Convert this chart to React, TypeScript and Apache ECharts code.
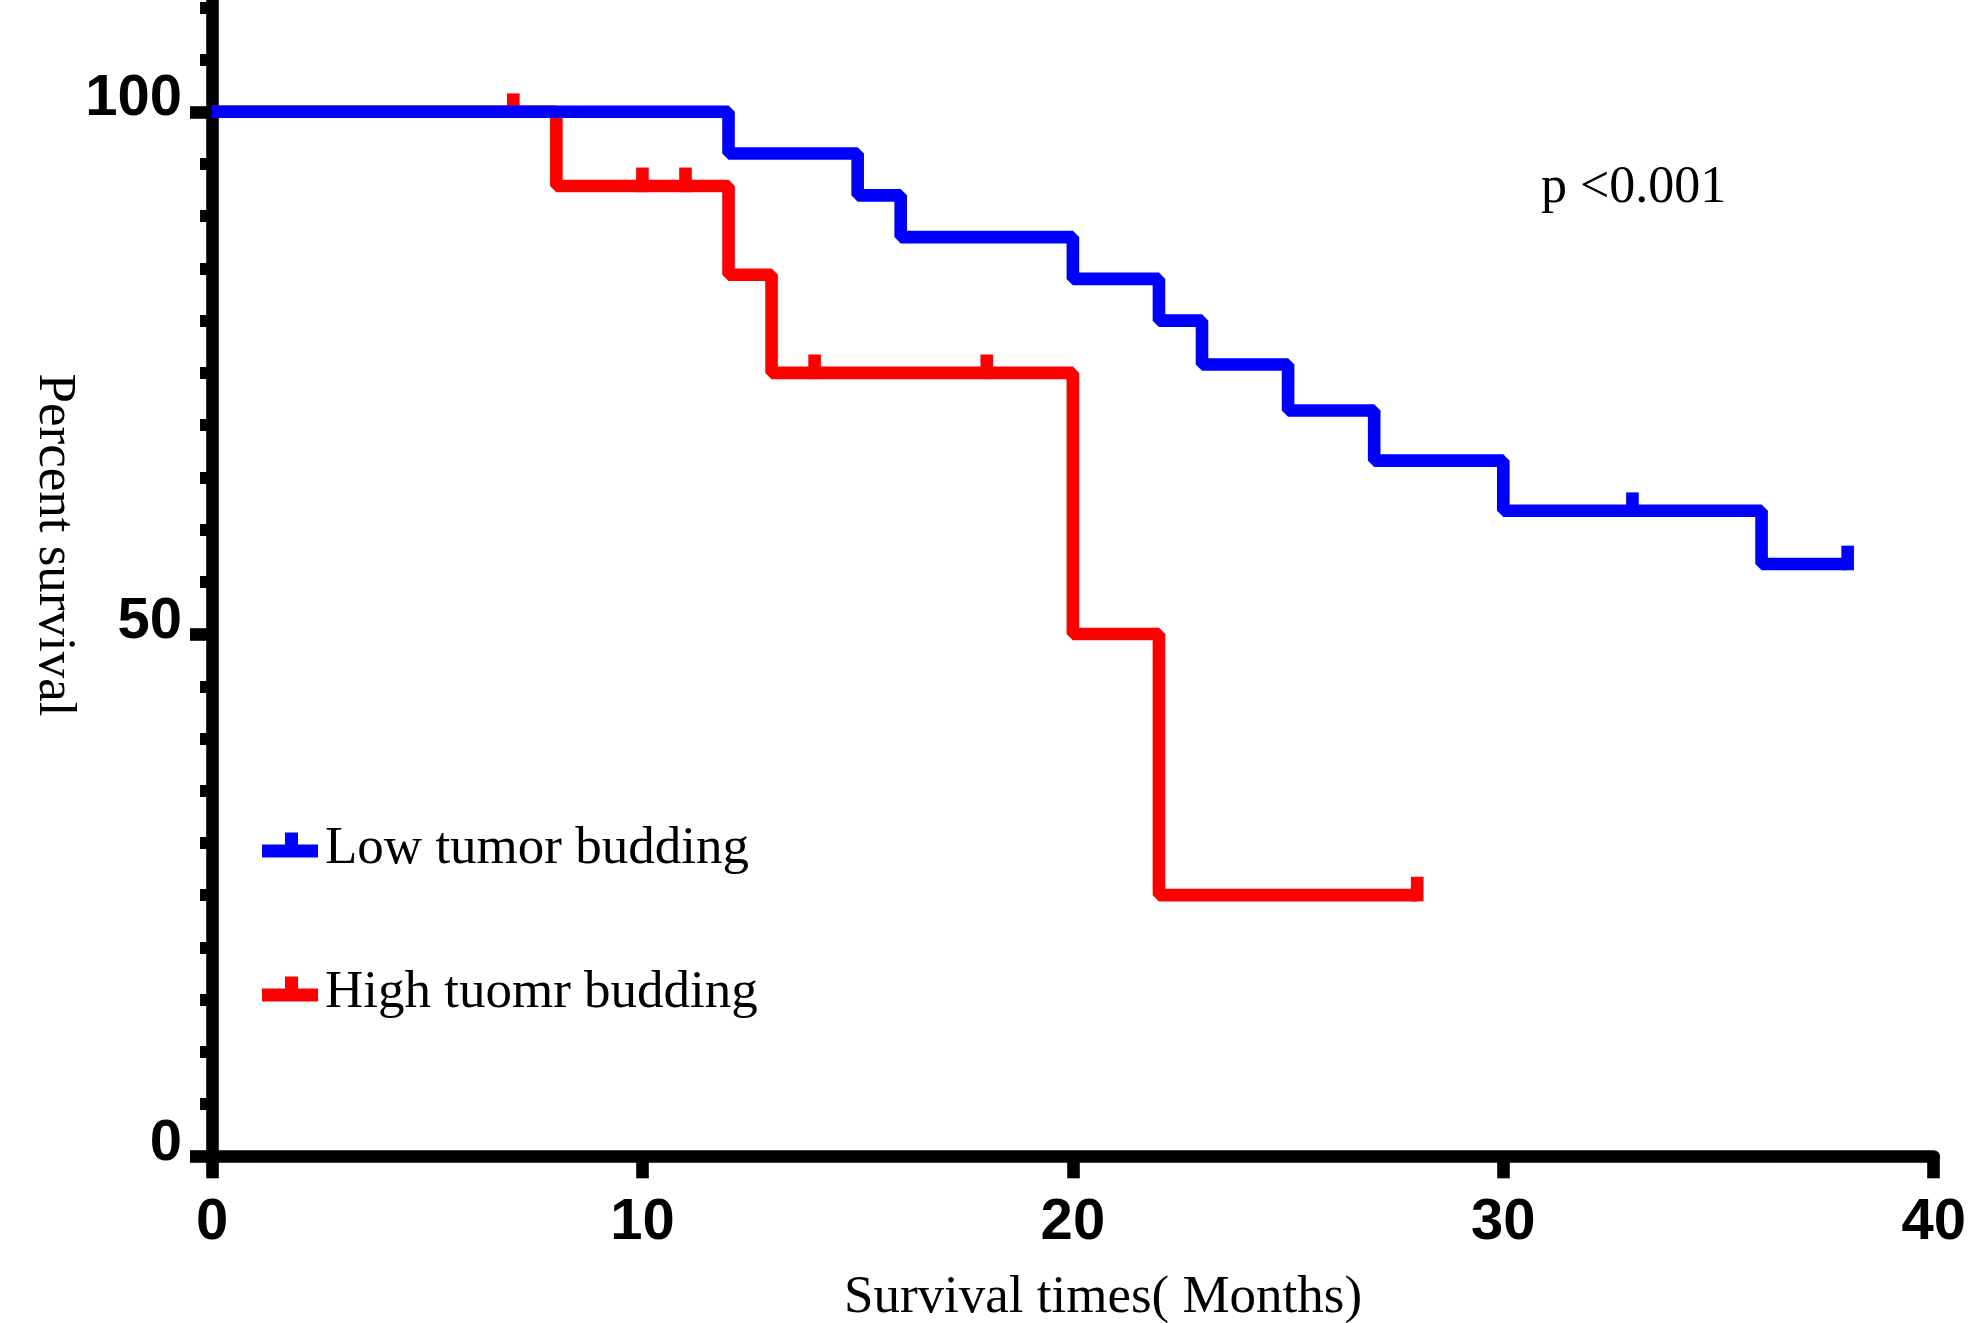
import React, { useEffect, useRef } from "react";
import * as echarts from "echarts";

// ---- data ----
const lowTimes = [0, 12, 15, 16, 20, 22, 23, 25, 27, 30, 36, 38];
const lowSurvival = [100, 96, 92, 88, 84, 80, 75.8, 71.4, 66.6, 61.8, 56.7, 56.7];
const lowCensorTimes = [33, 38];
const lowCensorSurvival = [61.8, 56.7];

const highTimes = [0, 8, 12, 13, 20, 22, 28];
const highSurvival = [100, 92.9, 84.4, 75, 50, 25, 25];
const highCensorTimes = [7, 10, 11, 14, 18, 28];
const highCensorSurvival = [100, 92.9, 92.9, 75, 75, 25];

const xTickValues = [0, 10, 20, 30, 40];
const yLabelValues = [0, 50, 100];
const yMinorTickValues = [5, 10, 15, 20, 25, 30, 35, 40, 45, 55, 60, 65, 70, 75, 80, 85, 90, 95, 105, 110];

const lowName = "Low tumor budding";
const highName = "High tuomr budding";
const pText = "p <0.001";
const xTitle = "Survival times( Months)";
const yTitle = "Percent survival";

const BLUE = "#0000FF";
const RED = "#FF0000";
const LW = 12.6;

const pairs = (xs: number[], ys: number[]) => xs.map((x, i) => [x, ys[i]]);

const censorSeries = (name: string, xs: number[], ys: number[], color: string, z: number) => ({
  name,
  type: "scatter",
  data: pairs(xs, ys),
  symbol: "rect",
  symbolSize: [LW, 24.6],
  symbolOffset: [0, -6.1],
  itemStyle: { color, opacity: 1 },
  z,
  silent: true,
});

const legendIcon = "path://M0,12 L23,12 L23,0 L36,0 L36,12 L56,12 L56,25 L0,25 Z";

export default function App() {
  const ref = useRef<HTMLDivElement>(null);
  useEffect(() => {
    document.body.style.margin = "0";
    document.body.style.overflow = "hidden";
    const chart = echarts.init(ref.current as HTMLDivElement, null, { renderer: "svg" });
    const yMax = 110.7;
    const option: any = {
      animation: false,
      backgroundColor: "#ffffff",
      grid: { left: 212, top: 0, width: 1724, height: 1156.3, containLabel: false },
      xAxis: {
        type: "value",
        min: 0,
        max: 40,
        interval: 10,
        axisLine: { show: true, lineStyle: { color: "#000", width: LW } },
        axisTick: { show: true, length: 22, customValues: xTickValues, lineStyle: { color: "#000", width: LW } },
        axisLabel: {
          customValues: xTickValues,
          color: "#000",
          fontFamily: "Liberation Sans",
          fontWeight: "bold",
          fontSize: 58,
          margin: 33,
        },
        splitLine: { show: false },
      },
      yAxis: [
        {
          type: "value",
          min: 0,
          max: yMax,
          position: "left",
          axisLine: { show: true, onZero: false, lineStyle: { color: "#000", width: LW } },
          axisTick: { show: true, length: 22, customValues: yLabelValues, lineStyle: { color: "#000", width: LW } },
          axisLabel: {
            customValues: yLabelValues,
            color: "#000",
            fontFamily: "Liberation Sans",
            fontWeight: "bold",
            fontSize: 58,
            margin: 30,
            verticalAlign: "bottom",
            lineHeight: 34,
          },
          splitLine: { show: false },
        },
        {
          type: "value",
          min: 0,
          max: yMax,
          position: "left",
          axisLine: { show: false },
          axisTick: { show: true, length: 12, customValues: yMinorTickValues, lineStyle: { color: "#000", width: 12 } },
          axisLabel: { show: false },
          splitLine: { show: false },
        },
      ],
      legend: {
        orient: "vertical",
        left: 257,
        top: 810,
        itemWidth: 56,
        itemHeight: 25,
        itemGap: 84,
        selectedMode: false,
        symbolKeepAspect: false,
        textStyle: {
          color: "#000",
          fontFamily: "Liberation Serif",
          fontSize: 53,
          lineHeight: 60,
          padding: [0, 0, 0, 2],
        },
        data: [
          { name: lowName, icon: legendIcon, itemStyle: { color: BLUE, borderWidth: 0 } },
          { name: highName, icon: legendIcon, itemStyle: { color: RED, borderWidth: 0 } },
        ],
      },
      graphic: [
        {
          type: "text",
          left: 1541,
          top: 158,
          style: { text: pText, fill: "#000", font: "52px 'Liberation Serif'" },
        },
        {
          type: "text",
          x: 1103,
          y: 1294,
          style: {
            text: xTitle,
            fill: "#000",
            font: "53px 'Liberation Serif'",
            align: "center",
            verticalAlign: "middle",
          },
        },
        {
          type: "text",
          x: 58,
          y: 545,
          rotation: -Math.PI / 2,
          style: {
            text: yTitle,
            fill: "#000",
            font: "53px 'Liberation Serif'",
            align: "center",
            verticalAlign: "middle",
          },
        },
      ],
      series: [
        {
          name: highName,
          type: "line",
          step: "end",
          data: pairs(highTimes, highSurvival),
          showSymbol: false,
          symbol: "none",
          lineStyle: { color: RED, width: LW, join: "bevel", cap: "butt" },
          itemStyle: { color: RED },
          z: 2,
          silent: true,
        },
        censorSeries("High censored", highCensorTimes, highCensorSurvival, RED, 3),
        {
          name: lowName,
          type: "line",
          step: "end",
          data: pairs(lowTimes, lowSurvival),
          showSymbol: false,
          symbol: "none",
          lineStyle: { color: BLUE, width: LW, join: "bevel", cap: "butt" },
          itemStyle: { color: BLUE },
          z: 4,
          silent: true,
        },
        censorSeries("Low censored", lowCensorTimes, lowCensorSurvival, BLUE, 5),
      ],
    };
    chart.setOption(option);
    return () => chart.dispose();
  }, []);
  return <div ref={ref} style={{ width: 1969, height: 1323 }} />;
}
